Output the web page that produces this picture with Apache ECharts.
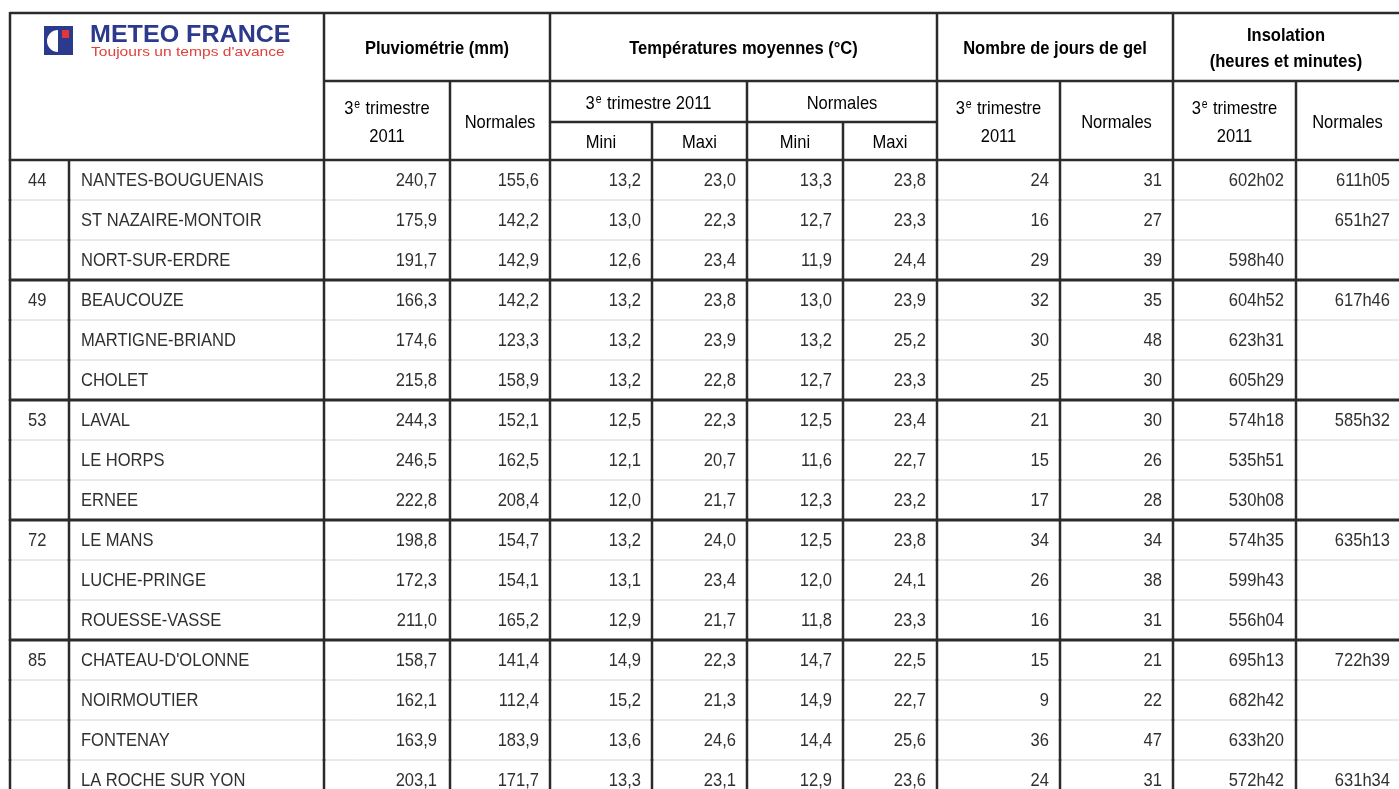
<!DOCTYPE html>
<html>
<head>
<meta charset="utf-8">
<title>Météo France - 3e trimestre 2011</title>
<script src="https://cdn.jsdelivr.net/npm/echarts@6/dist/echarts.min.js"></script>
<style>
    html, body { margin: 0; padding: 0; background: #fff; }
    #main { width: 1399px; height: 789px; }
</style>
</head>
<body>
<div id="main"></div>
<script>
// données du tableau
var depts = ['44', '44', '44', '49', '49', '49', '53', '53', '53', '72', '72', '72', '85', '85', '85', '85'];
var stations = ['NANTES-BOUGUENAIS', 'ST NAZAIRE-MONTOIR', 'NORT-SUR-ERDRE', 'BEAUCOUZE', 'MARTIGNE-BRIAND', 'CHOLET',
    'LAVAL', 'LE HORPS', 'ERNEE', 'LE MANS', 'LUCHE-PRINGE', 'ROUESSE-VASSE',
    "CHATEAU-D'OLONNE", 'NOIRMOUTIER', 'FONTENAY', 'LA ROCHE SUR YON'];
var pluvio2011 = [240.7, 175.9, 191.7, 166.3, 174.6, 215.8, 244.3, 246.5, 222.8, 198.8, 172.3, 211.0, 158.7, 162.1, 163.9, 203.1];
var pluvioNorm = [155.6, 142.2, 142.9, 142.2, 123.3, 158.9, 152.1, 162.5, 208.4, 154.7, 154.1, 165.2, 141.4, 112.4, 183.9, 171.7];
var tMin2011 = [13.2, 13.0, 12.6, 13.2, 13.2, 13.2, 12.5, 12.1, 12.0, 13.2, 13.1, 12.9, 14.9, 15.2, 13.6, 13.3];
var tMax2011 = [23.0, 22.3, 23.4, 23.8, 23.9, 22.8, 22.3, 20.7, 21.7, 24.0, 23.4, 21.7, 22.3, 21.3, 24.6, 23.1];
var tMinNorm = [13.3, 12.7, 11.9, 13.0, 13.2, 12.7, 12.5, 11.6, 12.3, 12.5, 12.0, 11.8, 14.7, 14.9, 14.4, 12.9];
var tMaxNorm = [23.8, 23.3, 24.4, 23.9, 25.2, 23.3, 23.4, 22.7, 23.2, 23.8, 24.1, 23.3, 22.5, 22.7, 25.6, 23.6];
var gel2011 = [24, 16, 29, 32, 30, 25, 21, 15, 17, 34, 26, 16, 15, 9, 36, 24];
var gelNorm = [31, 27, 39, 35, 48, 30, 30, 26, 28, 34, 38, 31, 21, 22, 47, 31];
var insol2011 = ['602h02', '', '598h40', '604h52', '623h31', '605h29', '574h18', '535h51', '530h08',
    '574h35', '599h43', '556h04', '695h13', '682h42', '633h20', '572h42'];
var insolNorm = ['611h05', '651h27', '', '617h46', '', '', '585h32', '', '', '635h13', '', '', '722h39', '', '', '631h34'];

// en-têtes
var groupTitles = ['Pluviométrie (mm)', 'Températures moyennes (°C)', 'Nombre de jours de gel', 'Insolation\n(heures et minutes)'];
var subTitles = ['3e trimestre\n2011', 'Normales', '3e trimestre 2011', 'Normales', '3e trimestre\n2011', 'Normales', '3e trimestre\n2011', 'Normales'];
var minMaxLabels = ['Mini', 'Maxi', 'Mini', 'Maxi'];

// mise en page (bords des colonnes, en px)
var edges = [10, 69, 324, 450, 550, 652, 747, 843, 937, 1060, 1173, 1296, 1399];
var headRows = [0, 68, 109, 147];   // lignes de l'en-tête (0 = haut du tableau)

var FONT = "'Liberation Sans', Arial, sans-serif";
var NARROW = 0.87;   // police "condensed" simulée
var TXT = '#303030';
var LINE = '#2b2b2b';

function fmt(v) {
    return v.toFixed(1).replace('.', ',');
}

// texte avec "e" en exposant
function supText(s) {
    return s.split('\n').map(function (l) {
        if (l.indexOf('3e ') === 0) {
            return '{n|3}{s|e}{n|' + l.slice(2) + '}';
        }
        return '{n|' + l + '}';
    }).join('\n');
}
var richSup = {
    n: {fontFamily: FONT, fontSize: 19, color: TXT, lineHeight: 28},
    s: {fontFamily: FONT, fontSize: 12, color: TXT, lineHeight: 28, padding: [0, 1, 7, 1]}
};

function line(x1, y1, x2, y2, w, c) {
    return {
        type: 'line',
        shape: {x1: x1, y1: y1, x2: x2, y2: y2},
        style: {stroke: c || LINE, lineWidth: w || 2.5}
    };
}

// colonnes du corps du tableau
var cols = [
    {c: 0, align: 'left', pad: 18, get: function (i) { return (i === 0 || depts[i - 1] !== depts[i]) ? depts[i] : ''; }},
    {c: 1, align: 'left', pad: 12, get: function (i) { return stations[i]; }},
    {c: 2, align: 'right', pad: 13, get: function (i) { return fmt(pluvio2011[i]); }},
    {c: 3, align: 'right', pad: 11, get: function (i) { return fmt(pluvioNorm[i]); }},
    {c: 4, align: 'right', pad: 11, get: function (i) { return fmt(tMin2011[i]); }},
    {c: 5, align: 'right', pad: 11, get: function (i) { return fmt(tMax2011[i]); }},
    {c: 6, align: 'right', pad: 11, get: function (i) { return fmt(tMinNorm[i]); }},
    {c: 7, align: 'right', pad: 11, get: function (i) { return fmt(tMaxNorm[i]); }},
    {c: 8, align: 'right', pad: 11, get: function (i) { return String(gel2011[i]); }},
    {c: 9, align: 'right', pad: 11, get: function (i) { return String(gelNorm[i]); }},
    {c: 10, align: 'right', pad: 12, get: function (i) { return insol2011[i]; }},
    {c: 11, align: 'right', pad: 9, get: function (i) { return insolNorm[i]; }}
];

function renderRow(params, api) {
    var i = api.value(0);
    var h = api.size([0, 1])[1];
    var yc = api.coord([0, i])[1];
    var top = yc - h / 2, bot = yc + h / 2;
    var X = function (v) { return api.coord([v, i])[0]; };
    var children = [];
    var lastOfGroup = (i === depts.length - 1) || depts[i + 1] !== depts[i];
    // ligne fine entre stations
    if (!lastOfGroup) {
        children.push(line(X(edges[0]), bot, X(edges[edges.length - 1]), bot, 1, '#d6d6d6'));
    }
    cols.forEach(function (col) {
        var t = col.get(i);
        if (!t) return;
        var x = col.align === 'left' ? X(edges[col.c]) + col.pad : X(edges[col.c + 1]) - col.pad;
        children.push({
            type: 'text',
            x: x,
            y: yc + 1,
            scaleX: NARROW,
            style: {
                text: t, x: 0, y: 0,
                align: col.align, verticalAlign: 'middle',
                font: '19px ' + FONT, fill: TXT
            }
        });
    });
    // traits verticaux
    for (var k = 0; k < edges.length - 1; k++) {
        children.push(line(X(edges[k]), top - 1, X(edges[k]), bot + 1, 2.5));
    }
    if (lastOfGroup) {
        children.push(line(X(edges[0]), bot, X(edges[edges.length - 1]), bot, 3));
    }
    return {type: 'group', children: children};
}

function renderHead(params, api) {
    var P = function (x, y) { return api.coord([x, y]); };
    var children = [];
    var hline = function (y, xa, xb) {
        var a = P(edges[xa], headRows[y]), b = P(edges[xb], headRows[y]);
        children.push(line(a[0], a[1], b[0], b[1], 2.5));
    };
    var vline = function (x, ya, yb) {
        var a = P(edges[x], headRows[ya]), b = P(edges[x], headRows[yb]);
        children.push(line(a[0], a[1] - 1, b[0], b[1] + 1, 2.5));
    };
    var text = function (t, xa, xb, ya, yb, bold) {
        var a = P(edges[xa], headRows[ya]), b = P(edges[xb], headRows[yb]);
        children.push({
            type: 'text',
            x: (a[0] + b[0]) / 2,
            y: (a[1] + b[1]) / 2 + 2,
            scaleX: NARROW,
            style: {
                text: supText(t), x: 0, y: 0,
                align: 'center', verticalAlign: 'middle',
                rich: bold ? {
                    n: {fontFamily: FONT, fontSize: 19, fontWeight: 'bold', color: '#262626', lineHeight: 26}
                } : richSup
            }
        });
    };
    // titres des groupes
    var spans = [[2, 4], [4, 8], [8, 10], [10, 12]];
    groupTitles.forEach(function (t, k) { text(t, spans[k][0], spans[k][1], 0, 1, true); });
    // sous-titres
    var subSpans = [[2, 3, 1, 3], [3, 4, 1, 3], [4, 6, 1, 2], [6, 8, 1, 2], [8, 9, 1, 3], [9, 10, 1, 3], [10, 11, 1, 3], [11, 12, 1, 3]];
    subTitles.forEach(function (t, k) { var s = subSpans[k]; text(t, s[0], s[1], s[2], s[3]); });
    minMaxLabels.forEach(function (t, k) { text(t, 4 + k, 5 + k, 2, 3); });
    // traits
    hline(0, 0, 12);
    hline(1, 2, 12);
    hline(2, 4, 8);
    hline(3, 0, 12);
    [0, 2, 4, 8, 10].forEach(function (x) { vline(x, 0, 3); });
    [3, 6, 9, 11].forEach(function (x) { vline(x, 1, 3); });
    [5, 7].forEach(function (x) { vline(x, 2, 3); });
    return {type: 'group', children: children};
}

var myChart = echarts.init(document.getElementById('main'), null, {renderer: 'canvas'});

var options = {
    backgroundColor: '#fff',
    animation: false,
    grid: [
        {left: 0, right: 0, top: 13, height: 147},
        {left: 0, right: 0, top: 160, bottom: 0}
    ],
    xAxis: [
        {type: 'value', gridIndex: 0, min: 0, max: 1399, show: false},
        {type: 'value', gridIndex: 1, min: 0, max: 1399, show: false}
    ],
    yAxis: [
        {type: 'value', gridIndex: 0, min: 0, max: 147, inverse: true, show: false},
        // lignes de 40 px : le tableau continue sous le bas de l'image
        {type: 'value', gridIndex: 1, min: -0.5, max: 15.225, inverse: true, show: false}
    ],
    // logo
    graphic: [
        {type: 'rect', x: 44, y: 26, shape: {width: 29, height: 29}, style: {fill: '#2c3a8e'}},
        {type: 'circle', x: 58, y: 41, shape: {r: 11}, style: {fill: '#fff'}},
        {type: 'rect', x: 58, y: 28, shape: {width: 13, height: 25}, style: {fill: '#2c3a8e'}},
        {type: 'rect', x: 62, y: 30, shape: {width: 7, height: 8}, style: {fill: '#e2373a'}},
        {type: 'text', x: 90, y: 24, scaleX: 1.09,
            style: {text: 'METEO FRANCE', font: 'bold 23px "Liberation Sans", Arial, sans-serif', fill: '#2c3a8e'}},
        {type: 'text', x: 91, y: 47, scaleX: 1.3,
            style: {text: "Toujours un temps d'avance", font: '12px "Liberation Sans", Arial, sans-serif', fill: '#e0413c'}}
    ],
    series: [
        {
            type: 'custom',
            name: 'entete',
            xAxisIndex: 0,
            yAxisIndex: 0,
            renderItem: renderHead,
            data: [[0, 0]],
            silent: true
        },
        {
            type: 'custom',
            name: 'stations',
            xAxisIndex: 1,
            yAxisIndex: 1,
            renderItem: renderRow,
            encode: {x: -1, y: 0},
            data: stations.map(function (s, i) { return [i]; }),
            clip: false,
            silent: true
        }
    ]
};
myChart.setOption(options);
</script>
</body>
</html>
